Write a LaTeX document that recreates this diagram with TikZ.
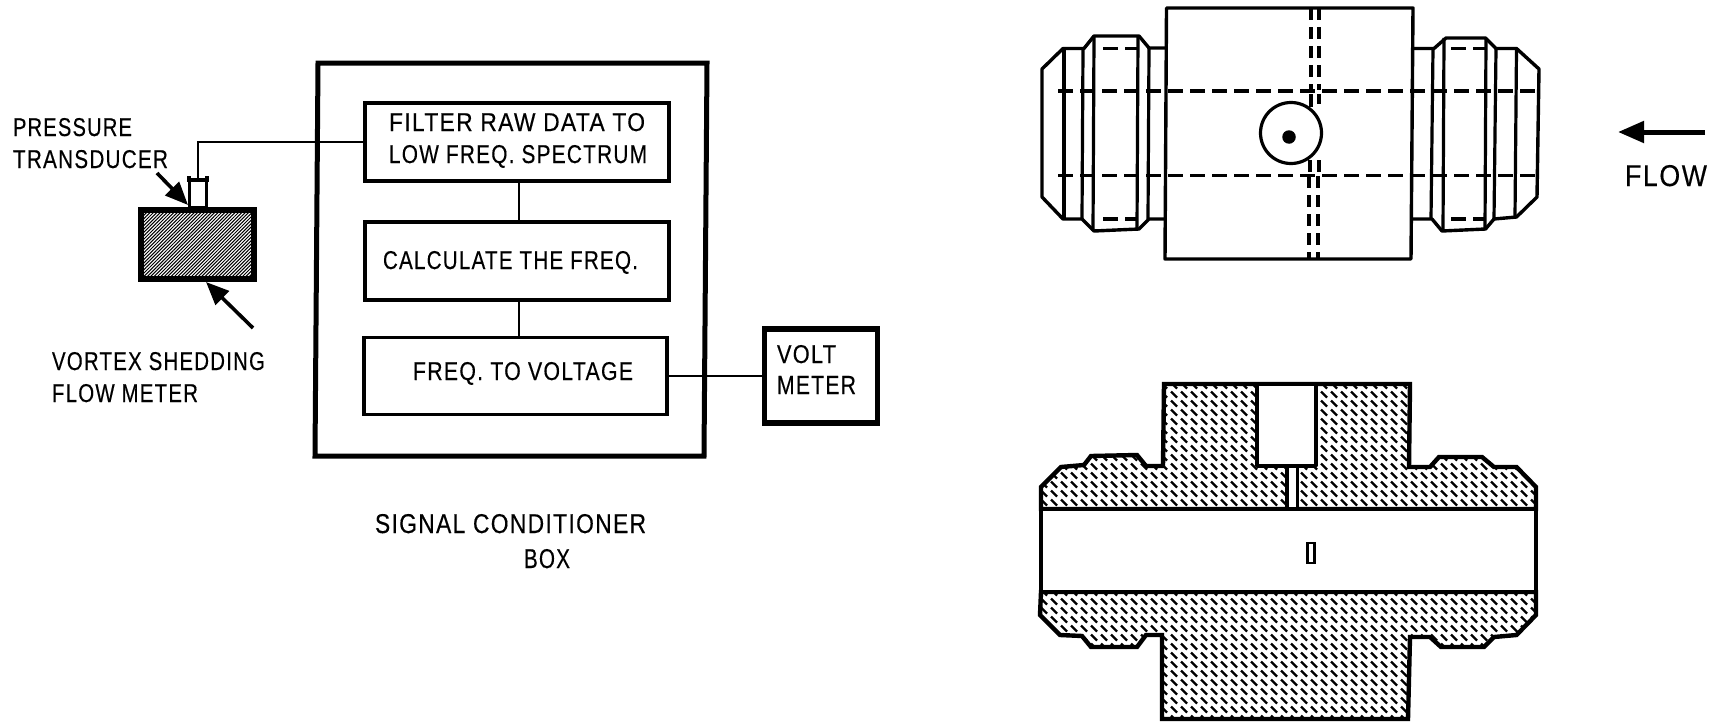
\documentclass[tikz,border=0pt]{standalone}
\usepackage{fontspec}
\usepackage{graphicx}
\usetikzlibrary{arrows.meta,patterns,patterns.meta}
\newfontfamily\plotfont[LetterSpace=6,FakeBold=0.4]{Liberation Sans}
\pgfdeclarepatternformonly{shortdash}{\pgfqpoint{-1pt}{-1pt}}{\pgfqpoint{11pt}{10pt}}{\pgfqpoint{10pt}{9pt}}{%
  \pgfsetlinewidth{2.3pt}\pgfsetbuttcap
  \pgfpathmoveto{\pgfqpoint{1pt}{7.5pt}}\pgfpathlineto{\pgfqpoint{7pt}{1.5pt}}\pgfusepath{stroke}}
\pgfdeclarepatternformonly{stipple}{\pgfqpoint{-1pt}{-1pt}}{\pgfqpoint{4pt}{4pt}}{\pgfqpoint{3.4pt}{3.4pt}}{%
  \pgfsetlinewidth{1pt}\pgfsetbuttcap
  \pgfpathmoveto{\pgfqpoint{0pt}{0pt}}\pgfpathlineto{\pgfqpoint{3.4pt}{3.4pt}}\pgfusepath{stroke}}
\newcommand{\lbl}[6]{\node[anchor=base west,inner sep=0pt,outer sep=0pt] (#1) at (#2,#3) {\resizebox{#4pt}{#5pt}{\plotfont #6}};}
\tikzset{
  blockbox/.style={draw=black,line width=3.2pt,inner sep=0pt,outer sep=0pt,fill=white},
  wire/.style={draw=black,line width=2.8pt},
  outline/.style={draw=black,line width=3.2pt,line join=round},
  thick outline/.style={draw=black,line width=4.4pt,line join=miter},
  hidden/.style={draw=black,line width=3.1pt,dash pattern=on 15pt off 7pt},
  hiddenv/.style={draw=black,line width=3.1pt,dash pattern=on 12pt off 7pt},
  hatched/.style={pattern=shortdash,pattern color=black},
  pointer/.style={draw=black,line width=3.6pt,-{Triangle[length=23pt,width=19pt]}},
}
\begin{document}
\begin{tikzpicture}[x=1pt,y=-1pt]
\useasboundingbox (0,0) rectangle (1714,723);
\fill[white] (0,0) rectangle (1714,723);

% ---- left: block diagram
\draw[draw=black,line width=5pt] (318,63) -- (707,63) -- (704,456) -- (315,456) -- cycle;
\node[blockbox,minimum width=304pt,minimum height=78pt] (filter) at (517,142) {};
\node[blockbox,minimum width=304pt,minimum height=78pt] (calc) at (517,261) {};
\node[blockbox,minimum width=303pt,minimum height=77pt] (freq) at (515.5,376) {};
\node[draw=black,line width=5.5pt,fill=white,inner sep=0pt,outer sep=0pt,minimum width=113pt,minimum height=94pt] (volt) at (821,376) {};
\draw[wire] (filter.south -| 519,0) -- (calc.north -| 519,0);
\draw[wire] (calc.south -| 519,0) -- (freq.north -| 519,0);
\draw[wire] (freq.east) -- (volt.west);

\lbl{t1}{389}{131}{256}{18}{FILTER RAW DATA TO}
\lbl{t2}{389}{163}{258}{18}{LOW FREQ. SPECTRUM}
\lbl{t3}{383}{269}{255}{18}{CALCULATE THE FREQ.}
\lbl{t4}{413}{380}{220}{18}{FREQ. TO VOLTAGE}
\lbl{t5}{777}{363}{59}{18}{VOLT}
\lbl{t6}{777}{394}{79}{18}{METER}
\lbl{t7}{375}{533}{271}{19}{SIGNAL CONDITIONER}
\lbl{t8}{524}{568}{46}{19}{BOX}

% ---- left: sensor
\node[draw=black,line width=6pt,outer sep=0pt,inner sep=0pt,minimum width=113pt,minimum height=69pt,pattern=stipple,pattern color=black] (meter) at (197.5,244.5) {};
\node[draw=black,line width=3.6pt,fill=white,outer sep=0pt,inner sep=0pt,minimum width=17pt,minimum height=27pt] (transducer) at (198,194) {};
\draw[draw=black,line width=3.4pt] (189,176) -- (189,180) -- (207,180) -- (207,176);
\draw[wire] (filter.west) -| (transducer.north);
\coordinate (a1s) at (157,173);
\coordinate (a1e) at (188,205);
\coordinate (a2s) at (253,328);
\coordinate (a2e) at (206,282);
\draw[pointer] (a1s) -- (a1e);
\draw[pointer] (a2s) -- (a2e);
\lbl{t9}{13}{136}{119}{18}{PRESSURE}
\lbl{t10}{13}{168}{155}{18}{TRANSDUCER}
\lbl{t11}{52}{370}{213}{18}{VORTEX SHEDDING}
\lbl{t12}{52}{402}{146}{18}{FLOW METER}

% ---- right: flow arrow
\coordinate (fs) at (1705,132);
\coordinate (fe) at (1618,132);
\draw[draw=black,line width=5pt,-{Triangle[length=26pt,width=21pt]}] (fs) -- (fe);
\lbl{t13}{1625}{186}{82}{21}{FLOW}

% ---- right: top view
\draw[outline,line width=3.4pt] (1166.5,8) -- (1413,8) -- (1411,259) -- (1165,259) -- cycle;
\draw[outline,line width=3.4pt] (1166.5,48) -- (1149,48) -- (1139,36) -- (1094,36) -- (1084,48.5) -- (1063,48.5) -- (1042,69) -- (1042,197) -- (1063,219) -- (1082,219) -- (1094,231) -- (1139,229) -- (1149,219) -- (1166.5,219);
\draw[outline,line width=3.4pt] (1413,48.5) -- (1434,48.5) -- (1446,38) -- (1485.5,38) -- (1496,48.5) -- (1516.5,48.5) -- (1539,69) -- (1537,197) -- (1516.5,217) -- (1494,219) -- (1485.5,229) -- (1442,231) -- (1432,219) -- (1411,219);
\draw[outline] (1064,48.5) -- (1064,219);
\draw[outline] (1083,48.5) -- (1082,219);
\draw[outline] (1094,36) -- (1093,231);
\draw[outline] (1138,36) -- (1137,229);
\draw[outline] (1149,48) -- (1148,219);
\draw[outline] (1433,48.5) -- (1431,219);
\draw[outline] (1444,38) -- (1443,231);
\draw[outline] (1486,38) -- (1485,229);
\draw[outline] (1496,48.5) -- (1494,219);
\draw[outline] (1516.5,48.5) -- (1515,217);
\draw[hidden] (1058,91) -- (1537,91);
\draw[hidden] (1058,175.5) -- (1537,175.5);
\draw[hidden] (1103,48.5) -- (1137,48.5);
\draw[hidden] (1103,219) -- (1137,219);
\draw[hidden] (1451,48.5) -- (1485,48.5);
\draw[hidden] (1451,219) -- (1485,219);
\draw[hiddenv] (1311,8) -- (1311,90);
\draw[hiddenv] (1319,8) -- (1319,90);
\draw[hiddenv] (1309,176) -- (1309,259);
\draw[hiddenv] (1318,176) -- (1318,259);
\draw[outline] (1311,94) -- (1311,107);
\draw[outline] (1319,94) -- (1319,104);
\draw[outline] (1310,160) -- (1310,172);
\draw[outline] (1319,160) -- (1319,172);
\node[circle,draw=black,line width=3.2pt,fill=white,inner sep=0pt,outer sep=0pt,minimum size=61pt] (port) at (1291,133) {};
\node[circle,fill=black,inner sep=0pt,outer sep=0pt,minimum size=13.5pt] (dot) at (1289,137) {};

% ---- right: section view
\draw[thick outline,hatched] (1041,509) -- (1041,487) -- (1061,467) -- (1084,465) -- (1091,456) -- (1137,455) -- (1146,466) -- (1163,466) -- (1164,384) -- (1410,384) -- (1409,467) -- (1430,467) -- (1439,457) -- (1482,457) -- (1494,467) -- (1516.5,467) -- (1536,487) -- (1536,509) -- cycle;
\draw[thick outline,hatched] (1041,592) -- (1040,615) -- (1060,635) -- (1082,636) -- (1091,647) -- (1137,647) -- (1146,635) -- (1162,635) -- (1162,719) -- (1408,719) -- (1410,637) -- (1430,637) -- (1441,647) -- (1484,647) -- (1494,637) -- (1516.5,635) -- (1536,615) -- (1536,592) -- cycle;
\draw[outline,fill=white] (1041,509) rectangle (1536,592);
\draw[outline,line width=3.6pt,fill=white] (1257,384) rectangle (1316,466);
\draw[outline,fill=white] (1287,509) -- (1287,466) -- (1297.5,466) -- (1297.5,509);
\draw[draw=black,line width=4.4pt] (1041,509) -- (1536,509);
\draw[draw=black,line width=3.6pt] (1041,592) -- (1536,592);
\node[draw=black,line width=2.8pt,fill=white,inner sep=0pt,outer sep=0pt,minimum width=7pt,minimum height=20pt] (vane) at (1311,553) {};
\end{tikzpicture}
\end{document}
